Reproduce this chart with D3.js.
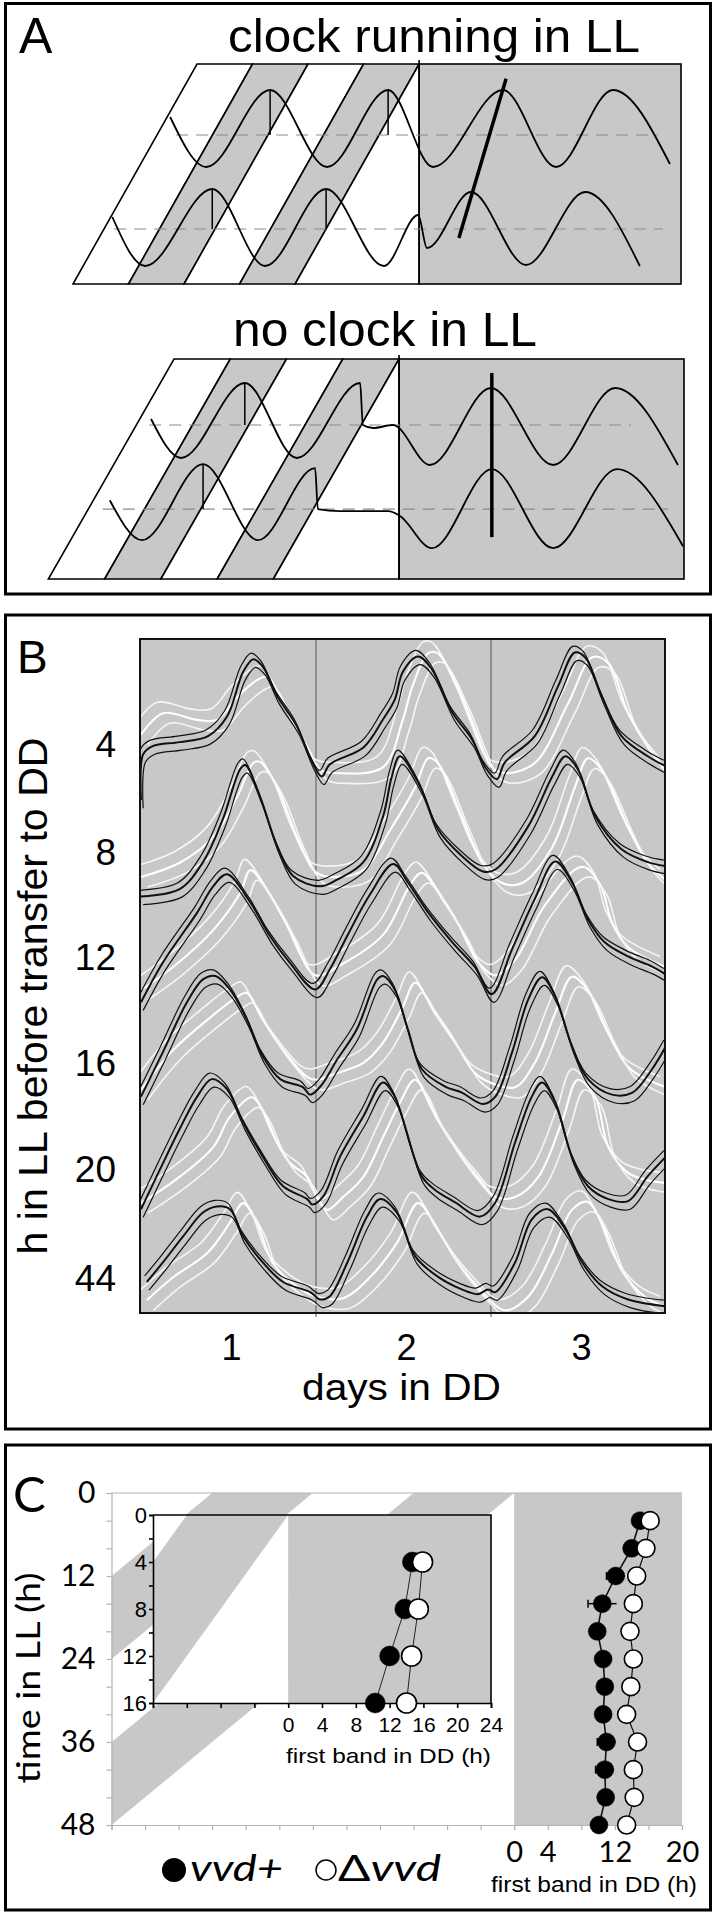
<!DOCTYPE html>
<html>
<head>
<meta charset="utf-8">
<script src="https://cdnjs.cloudflare.com/ajax/libs/d3/7.8.5/d3.min.js"></script>
<style>
    body { margin: 0; background: white; }
    svg { display: block; font-family: "Liberation Sans", Arial, sans-serif; }
</style>
</head>
<body>
<div id="figure"></div>
<script>
// ---------- panel A : schematic (hours relative to transfer to DD, waves in arbitrary units) ----------
var ld_stripe_starts = [-48, -36, -24, -12];
var ld_stripe_dark = [false, true, false, true];
var ll_depth_max = 26.8;

var running_upper_wave = [[-53.8, 1.8], [-46.0, -3.2], [-32.2, 4.5], [-19.9, -3.2], [-6.7, 4.5], [3.0, -3.2],
                          [18.1, 4.5], [29.6, -3.2], [41.9, 4.5], [54.2, -2.9]];
var running_lower_wave = [[-66.3, 1.2], [-59.2, -3.7], [-44.7, 4.0], [-33.3, -3.7], [-20.1, 4.0], [-7.6, -3.7],
                          [-0.2, 1.4], [1.7, -1.9], [11.2, 3.7], [23.1, -3.6], [35.9, 3.7], [47.7, -3.7]];
var running_depths = [8.65, 20.1];
var running_dash_ranges = [[-52.5, 51.6], [-65.9, 52.7]];
var running_peak_marks = [[8.65, -32.2, 4.5], [8.65, -6.7, 4.5], [20.1, -44.7, 4.0], [20.1, -20.1, 4.0]];
var running_phase_line = [[8.6, 21.2], [18.8, 1.8]];

var stopped_upper_wave = [[-52.9, 0.6], [-46.5, -3.3], [-32.9, 4.2], [-21.8, -3.3], [-8.3, 4.2], [-7.7, 0],
                          [-5.5, -0.3], [-1.3, 0], [6.6, -4.0], [19.6, 3.7], [32.9, -4.0], [46.1, 3.7], [59.5, -4.0]];
var stopped_lower_wave = [[-61.7, 0.9], [-54.8, -3.1], [-41.8, 4.5], [-30.1, -3.1], [-17.9, 4.1], [-17.3, 0],
                          [-12.6, -0.2], [-2.3, -0.2], [0, -0.6], [7.0, -3.9], [19.8, 4.0], [32.9, -3.9],
                          [46.5, 4.0], [60.6, -3.7]];
var stopped_depths = [8.04, 18.3];
var stopped_dash_ranges = [[-53.3, 49.5], [-63.2, 57.4]];
var stopped_peak_marks = [[8.04, -32.9, 4.2], [18.3, -41.8, 4.5]];
var stopped_phase_line = [[19.8, 1.7], [19.8, 21.7]];

// ---------- panel B : traces (hours in DD, stacked signal) ----------
var row_labels = ["4", "8", "12", "16", "20", "44"];
var row_levels = [84.4, 68.5, 52.8, 37.2, 21.4, 5.3];
var day_labels = ["1", "2", "3"];
var day_label_hours = [12, 36, 60];
var day_boundaries = [24, 48];

var vvd_plus_traces = [
    [[0, 76.0], [0.3, 82.8], [1.6, 84.0], [5.3, 84.6], [9.2, 85.5], [11.8, 88.4], [14.0, 95.0], [15.4, 96.9],
     [16.7, 95.8], [18.7, 91.4], [21.4, 86.9], [23.5, 81.6], [24.8, 79.5], [25.9, 81.3], [30.5, 83.8],
     [33.2, 88.0], [34.8, 90.9], [35.9, 95.0], [38.0, 97.3], [39.9, 95.4], [42.7, 89.0], [45.4, 85.0],
     [47.2, 80.9], [48.8, 79.1], [49.9, 81.6], [54.0, 85.5], [57.2, 92.9], [59.5, 97.9], [60.9, 97.2],
     [63.2, 91.4], [65.9, 85.5], [69.5, 82.5], [72, 81.0]],
    [[0, 61.7], [5.3, 62.8], [8.5, 66.8], [11.2, 73.1], [13.6, 80.6], [14.3, 81.2], [16.3, 76.6], [18.7, 69.1],
     [20.9, 64.7], [24.6, 63.2], [26.9, 64.2], [30.5, 66.8], [33.2, 73.6], [34.4, 79.5], [35.5, 82.5],
     [38.3, 78.0], [40.7, 71.7], [44.0, 67.7], [46.9, 65.4], [48.6, 65.7], [53.1, 72.1], [56.4, 79.5],
     [58.2, 82.5], [59.9, 80.6], [62.3, 73.6], [65.9, 68.7], [69.5, 66.8], [72, 66.2]],
    [[0, 46.0], [3.0, 51.9], [7.7, 59.3], [9.9, 63.2], [11.8, 65.0], [15.0, 60.8], [17.7, 55.8], [20.4, 51.9],
     [23.9, 47.9], [25.9, 50.9], [28.4, 56.1], [31.4, 62.0], [34.6, 66.5], [36.6, 63.8], [39.4, 59.3],
     [42.7, 54.9], [45.8, 51.2], [48.1, 47.2], [50.9, 53.9], [54.0, 61.3], [56.8, 66.9], [59.1, 63.8],
     [61.3, 58.3], [63.6, 54.9], [66.8, 52.8], [70.1, 51.3], [72, 50.1]],
    [[0, 32.0], [3.0, 38.6], [6.3, 46.0], [8.5, 49.4], [10.2, 49.9], [12.2, 47.9], [14.5, 43.5], [16.7, 38.0],
     [19.1, 34.6], [22.2, 33.4], [23.2, 32.3], [24.6, 33.5], [26.9, 37.5], [29.6, 42.0], [32.4, 49.4],
     [33.2, 49.9], [34.8, 47.9], [36.6, 42.0], [38.5, 36.1], [41.7, 33.5], [44.0, 32.6], [46.9, 30.9],
     [48.6, 32.0], [50.9, 38.6], [53.1, 46.4], [55.0, 49.7], [56.8, 46.9], [59.1, 39.5], [61.3, 34.6],
     [64.6, 32.3], [67.4, 32.6], [70.1, 36.1], [72, 39.5]],
    [[0, 15.3], [2.6, 21.2], [5.3, 27.2], [7.7, 32.0], [9.7, 34.6], [11.8, 33.1], [14.0, 28.2], [16.7, 23.1],
     [19.5, 18.7], [22.8, 16.8], [23.5, 16.0], [25.0, 17.2], [27.3, 23.1], [30.5, 29.1], [33.2, 34.1],
     [34.8, 32.0], [38.5, 20.2], [40.3, 18.2], [43.1, 16.3], [46.5, 14.2], [48.6, 16.3], [51.3, 25.2],
     [53.6, 32.0], [55.0, 34.1], [56.8, 31.2], [59.1, 23.1], [61.3, 18.7], [64.1, 16.8], [66.8, 16.5],
     [69.5, 20.2], [72, 23.1]],
    [[0.8, 4.5], [3.0, 7.4], [5.8, 11.3], [8.5, 14.8], [10.4, 15.7], [12.2, 15.3], [14.0, 11.3], [16.7, 7.4],
     [19.5, 4.5], [23.2, 3.0], [24.6, 1.9], [25.9, 2.4], [28.3, 7.4], [31.0, 14.2], [32.8, 16.8], [35.1, 14.8],
     [37.6, 8.3], [40.7, 5.3], [44.0, 3.4], [46.2, 2.7], [47.6, 3.4], [48.6, 3.0], [51.3, 7.4], [53.6, 13.8],
     [55.8, 15.3], [58.2, 12.3], [60.5, 7.4], [63.2, 3.9], [66.8, 1.9], [72, 0.9]]
];

var vvd_delta_traces = [
    [[0, 85.8], [3.0, 89.0], [7.7, 88.0], [10.4, 88.0], [13.2, 91.4], [15.9, 93.9], [17.3, 94.4], [19.5, 90.5],
     [22.2, 85.0], [24.6, 80.6], [26.9, 80.1], [33.2, 81.0], [35.9, 88.0], [37.2, 92.9], [39.4, 97.9],
     [40.7, 97.9], [44.0, 91.4], [46.2, 85.5], [48.1, 81.0], [49.9, 80.1], [54.0, 81.6], [58.6, 90.5],
     [61.9, 97.3], [64.1, 96.4], [66.8, 89.0], [69.5, 84.0], [72, 80.6]],
    [[0, 64.7], [5.3, 66.8], [9.9, 70.6], [13.2, 76.6], [15.4, 81.6], [16.3, 81.8], [18.7, 78.0], [21.4, 70.6],
     [24.1, 65.3], [26.9, 64.7], [30.5, 65.7], [34.2, 71.7], [37.6, 78.0], [39.4, 82.3], [40.7, 81.6],
     [44.0, 73.6], [46.8, 66.8], [49.5, 63.8], [52.3, 63.8], [56.4, 69.1], [59.5, 78.0], [61.3, 82.3],
     [63.2, 80.6], [66.8, 72.1], [69.5, 66.8], [72, 64.2]],
    [[0, 47.9], [4.7, 51.6], [9.9, 56.8], [13.6, 62.3], [15.0, 65.7], [17.7, 62.0], [20.4, 56.8], [23.9, 50.1],
     [27.3, 51.6], [33.2, 56.1], [36.9, 63.5], [38.5, 65.3], [41.7, 60.8], [44.0, 56.8], [46.2, 52.1],
     [48.6, 50.1], [51.3, 52.4], [55.4, 60.5], [60.5, 66.2], [63.0, 63.5], [64.6, 57.9], [66.8, 54.3],
     [72, 51.3]],
    [[0, 33.1], [4.4, 39.0], [9.9, 44.2], [13.2, 46.9], [14.5, 47.5], [16.7, 43.5], [19.5, 39.0], [22.8, 35.0],
     [24.1, 34.6], [26.9, 35.6], [30.5, 37.1], [33.2, 40.1], [35.9, 45.4], [37.6, 49.0], [40.3, 44.5],
     [43.1, 40.1], [45.8, 35.6], [48.1, 34.1], [51.3, 33.5], [54.0, 37.1], [56.8, 44.5], [59.1, 49.9],
     [61.3, 47.9], [64.1, 41.5], [66.8, 36.5], [69.5, 34.6], [72, 33.5]],
    [[0, 16.3], [5.3, 20.2], [9.9, 24.6], [12.2, 29.1], [15.2, 32.0], [16.7, 30.1], [18.7, 25.2], [20.4, 22.3],
     [22.8, 20.2], [24.1, 17.2], [25.5, 15.3], [27.7, 17.2], [30.5, 20.2], [33.2, 26.1], [35.5, 31.2],
     [37.6, 34.6], [40.7, 28.6], [44.0, 23.1], [46.8, 19.3], [48.6, 17.2], [51.3, 17.2], [54.5, 20.2],
     [57.8, 28.6], [59.9, 34.6], [62.3, 32.0], [64.1, 24.6], [66.8, 20.8], [69.5, 19.7], [72, 19.3]],
    [[0.8, 1.9], [4.4, 5.3], [9.1, 8.9], [12.2, 13.4], [14.0, 16.3], [15.9, 13.4], [18.1, 7.4], [21.4, 3.9],
     [24.1, 2.4], [27.7, 2.2], [31.4, 5.3], [35.1, 10.4], [38.0, 16.3], [40.7, 12.3], [43.5, 7.4], [46.2, 3.9],
     [49.9, 0.4], [53.1, 2.4], [56.4, 8.9], [59.1, 15.3], [61.2, 16.5], [63.2, 13.4], [65.9, 6.4], [69.1, 2.4],
     [72, 0.9]]
];

// spread of the replicate races around each drawn trace [hours, signal]
var vvd_plus_replicates = [[-0.3, 1.0], [0, 0.1], [0.3, -1.1]];
var vvd_delta_replicates = [[-0.8, 1.6], [0, 0], [0.9, -1.5]];

// ---------- panel C : first band in DD ----------
var ll_times = [4, 8, 12, 16, 20, 24, 28, 32, 36, 40, 44, 48];
var first_band_vvd_plus = [15.0, 14.0, 12.1, 10.5, 9.9, 10.6, 10.8, 10.6, 11.0, 10.8, 10.9, 10.1];
var first_band_vvd_delta = [16.2, 15.7, 14.6, 14.2, 13.8, 14.2, 13.9, 13.4, 14.7, 14.2, 14.3, 13.4];
var error_vvd_plus = [0, 0, 1.1, 1.7, 0, 0.8, 0, 0, 1.1, 1.1, 0, 0];
var error_vvd_delta = [0, 0, 0.4, 0, 0.9, 0.6, 0.8, 0, 0.6, 0, 0, 0];

var inset_ll_times = [4, 8, 12, 16];
var inset_vvd_plus = [14.7, 13.8, 12.0, 10.3];
var inset_vvd_delta = [15.9, 15.4, 14.6, 14.0];

var dark_band_starts = [-36, -12];
var main_y_labels = [0, 12, 24, 36, 48];
var main_x_labels = [0, 4, 12, 20];
var inset_y_labels = [0, 4, 8, 12, 16];
var inset_x_labels = [0, 4, 8, 12, 16, 20, 24];

var gray_fill = "#c8c8c8";

var svg = d3.select("#figure").append("svg")
            .attr("width", 717)
            .attr("height", 1914);

draw_panel_a(svg);
draw_panel_b(svg);
draw_panel_c(svg);

function draw_frame(root, top, bottom)
{
    root.append("rect")
        .attr("x", 5.5).attr("y", top)
        .attr("width", 705).attr("height", bottom - top)
        .attr("fill", "none")
        .attr("stroke", "black")
        .attr("stroke-width", 3);
}

function draw_panel_a(svg)
{
    var panel = svg.append("g");
    draw_frame(panel, 3.5, 594);

    panel.append("text").attr("x", 19).attr("y", 53).style("font-size", "50px").text("A");
    panel.append("text").attr("x", 228).attr("y", 52)
         .attr("textLength", 412).attr("lengthAdjust", "spacingAndGlyphs")
         .style("font-size", "47px").text("clock running in LL");
    panel.append("text").attr("x", 233).attr("y", 346)
         .attr("textLength", 304).attr("lengthAdjust", "spacingAndGlyphs")
         .style("font-size", "48px").text("no clock in LL");

    draw_clock_diagram(panel, {left: 197, right: 681, dd_end: 56.6, top: 64, bottom: 284},
                       [running_upper_wave, running_lower_wave], running_depths, running_dash_ranges,
                       running_peak_marks, running_phase_line);

    draw_clock_diagram(panel, {left: 174, right: 684, dd_end: 60.8, top: 359, bottom: 579},
                       [stopped_upper_wave, stopped_lower_wave], stopped_depths, stopped_dash_ranges,
                       stopped_peak_marks, stopped_phase_line);
}

function draw_clock_diagram(root, layout, waves, depths, dash_ranges, peak_marks, phase_line)
{
    var x = d3.scaleLinear().domain([-48, layout.dd_end]).range([layout.left, layout.right]);
    var y = d3.scaleLinear().domain([0, ll_depth_max]).range([layout.top, layout.bottom]);
    var amp = d3.scaleLinear().domain([0, 1]).range([0, 10]);
    var polygon = d3.line().x(function (d) { return x(d[0]); }).y(function (d) { return y(d[1]); });

    root.append("rect")
        .attr("x", x(0)).attr("y", y(0))
        .attr("width", x(layout.dd_end) - x(0))
        .attr("height", y(ll_depth_max) - y(0))
        .attr("fill", gray_fill)
        .attr("stroke", "black").attr("stroke-width", 1.6);

    for (var index in ld_stripe_starts)
    {
        var b = ld_stripe_starts[index];
        var corners = [[b, 0], [b + 12, 0], [b + 12 - ll_depth_max, ll_depth_max], [b - ll_depth_max, ll_depth_max]];
        root.append("path")
            .attr("d", polygon(corners) + "Z")
            .attr("fill", ld_stripe_dark[index] ? gray_fill : "white")
            .attr("stroke", "black").attr("stroke-width", 1.6)
            .attr("stroke-linejoin", "miter");
    }

    root.append("path")
        .attr("d", polygon([[0, 0], [0, ll_depth_max], [-ll_depth_max, ll_depth_max]]) + "Z")
        .attr("fill", "white")
        .attr("stroke", "black").attr("stroke-width", 1.6);

    root.append("line")
        .attr("x1", x(0)).attr("x2", x(0))
        .attr("y1", y(-0.5)).attr("y2", y(ll_depth_max))
        .attr("stroke", "black").attr("stroke-width", 1.6);

    for (var w = 0; w < waves.length; w++)
    {
        var depth = depths[w];
        root.append("line")
            .attr("x1", x(dash_ranges[w][0])).attr("x2", x(dash_ranges[w][1]))
            .attr("y1", y(depth)).attr("y2", y(depth))
            .attr("stroke", "#8a8a8a").attr("stroke-width", 1.2)
            .attr("stroke-dasharray", "12,8");

        var wave_line = d3.line()
                          .x(function (d) { return x(d[0]); })
                          .y(function (d) { return y(depth) - amp(d[1]); })
                          .curve(d3.curveMonotoneX);

        root.append("path")
            .attr("d", wave_line(waves[w]))
            .attr("fill", "none")
            .attr("stroke", "black").attr("stroke-width", 1.8);
    }

    peak_marks.forEach(function (mark) {
        root.append("line")
            .attr("x1", x(mark[1])).attr("x2", x(mark[1]))
            .attr("y1", y(mark[0]) - amp(mark[2])).attr("y2", y(mark[0]))
            .attr("stroke", "black").attr("stroke-width", 1.5);
    });

    root.append("line")
        .attr("x1", x(phase_line[0][0])).attr("y1", y(phase_line[0][1]))
        .attr("x2", x(phase_line[1][0])).attr("y2", y(phase_line[1][1]))
        .attr("stroke", "black").attr("stroke-width", 3.5);
}

function draw_panel_b(svg)
{
    var panel = svg.append("g");
    draw_frame(panel, 615, 1429);

    var plot = {left: 140, right: 665, top: 639, bottom: 1313};
    var x = d3.scaleLinear().domain([0, 72]).range([141, 666]);
    var y = d3.scaleLinear().domain([0, 100]).range([1313, 639]);

    panel.append("clipPath").attr("id", "clip-b")
         .append("rect")
         .attr("x", plot.left).attr("y", plot.top)
         .attr("width", plot.right - plot.left).attr("height", plot.bottom - plot.top);

    panel.append("rect")
         .attr("x", plot.left).attr("y", plot.top)
         .attr("width", plot.right - plot.left).attr("height", plot.bottom - plot.top)
         .attr("fill", gray_fill);

    day_boundaries.forEach(function (h) {
        panel.append("line")
             .attr("x1", x(h)).attr("x2", x(h))
             .attr("y1", plot.top).attr("y2", plot.bottom + 4)
             .attr("stroke", "#555").attr("stroke-width", 1);
    });

    var traces = panel.append("g").attr("clip-path", "url(#clip-b)");
    var trace_line = d3.line()
                       .x(function (d) { return x(d[0]); })
                       .y(function (d) { return y(d[1]); })
                       .curve(d3.curveCatmullRom.alpha(0.5));

    var white_widths = [1.6, 2.1, 1.6];
    var black_widths = [1.2, 2.0, 1.2];

    vvd_delta_traces.forEach(function (trace) {
        vvd_delta_replicates.forEach(function (rep, r) {
            var shifted = trace.map(function (p) { return [p[0] + rep[0], p[1] + rep[1]]; });
            traces.append("path")
                  .attr("d", trace_line(shifted))
                  .attr("fill", "none")
                  .attr("stroke", r === 1 ? "#ffffff" : "#f6f6f6")
                  .attr("stroke-width", white_widths[r]);
        });
    });

    vvd_plus_traces.forEach(function (trace) {
        vvd_plus_replicates.forEach(function (rep, r) {
            var shifted = trace.map(function (p) { return [p[0] + rep[0], p[1] + rep[1]]; });
            traces.append("path")
                  .attr("d", trace_line(shifted))
                  .attr("fill", "none")
                  .attr("stroke", "#111")
                  .attr("stroke-width", black_widths[r]);
        });
    });

    panel.append("rect")
         .attr("x", plot.left).attr("y", plot.top)
         .attr("width", plot.right - plot.left).attr("height", plot.bottom - plot.top)
         .attr("fill", "none")
         .attr("stroke", "#111").attr("stroke-width", 2);

    row_labels.forEach(function (label, i) {
        panel.append("text")
             .attr("x", 116).attr("y", y(row_levels[i]))
             .attr("dy", "0.36em")
             .attr("text-anchor", "end")
             .style("font-size", "37px")
             .text(label);
    });

    day_labels.forEach(function (label, i) {
        panel.append("text")
             .attr("x", x(day_label_hours[i]) + 3).attr("y", 1360)
             .attr("text-anchor", "middle")
             .style("font-size", "36px")
             .text(label);
    });

    panel.append("text").attr("x", 17).attr("y", 673).style("font-size", "46px").text("B");

    panel.append("text")
         .attr("x", 302).attr("y", 1400)
         .attr("textLength", 199).attr("lengthAdjust", "spacingAndGlyphs")
         .style("font-size", "36px")
         .text("days in DD");

    panel.append("text")
         .attr("transform", "translate(47,996) rotate(-90)")
         .attr("text-anchor", "middle")
         .attr("textLength", 517).attr("lengthAdjust", "spacingAndGlyphs")
         .style("font-size", "40px")
         .text("h in LL before transfer to DD");
}

function draw_panel_c(svg)
{
    var panel = svg.append("g");
    draw_frame(panel, 1445, 1910);

    var x = d3.scaleLinear().domain([-48, 20]).range([111.5, 682]);
    var y = d3.scaleLinear().domain([0, 48]).range([1493, 1825]);
    var ix = d3.scaleLinear().domain([-16, 24]).range([153, 491]);
    var iy = d3.scaleLinear().domain([0, 16]).range([1515, 1703]);

    // main light / dark history
    panel.append("clipPath").attr("id", "clip-c")
         .append("rect")
         .attr("x", x(-48)).attr("y", y(0))
         .attr("width", x(0) - x(-48)).attr("height", y(48) - y(0));

    panel.append("rect")
         .attr("x", x(0)).attr("y", y(0))
         .attr("width", x(20) - x(0)).attr("height", y(48) - y(0))
         .attr("fill", gray_fill);

    var band_layer = panel.append("g").attr("clip-path", "url(#clip-c)");
    var main_polygon = d3.line().x(function (d) { return x(d[0]); }).y(function (d) { return y(d[1]); });
    dark_band_starts.forEach(function (b) {
        band_layer.append("path")
                  .attr("d", main_polygon([[b, 0], [b + 12, 0], [b + 12 - 48, 48], [b - 48, 48]]) + "Z")
                  .attr("fill", gray_fill);
    });

    panel.append("line")
         .attr("x1", x(-48)).attr("x2", x(20))
         .attr("y1", y(0)).attr("y2", y(0))
         .attr("stroke", "#b4b4b4").attr("stroke-width", 1.2);

    var main_left = d3.axisLeft(y)
                      .tickValues(d3.range(0, 49, 4))
                      .tickFormat(function (d) { return main_y_labels.indexOf(d) >= 0 ? d : ""; })
                      .tickSize(5).tickPadding(11);
    var left_axis = panel.append("g").attr("transform", "translate(" + x(-48) + ",0)").call(main_left);
    left_axis.selectAll("path, line").attr("stroke", "#b4b4b4").attr("stroke-width", 1.2);
    left_axis.selectAll("text")
             .style("font-family", "Lato, 'Open Sans', sans-serif")
             .style("font-size", "30px").attr("fill", "black");

    var main_bottom = d3.axisBottom(x)
                        .tickValues(d3.range(-48, 21, 4))
                        .tickFormat(function (d) { return main_x_labels.indexOf(d) >= 0 ? d : ""; })
                        .tickSize(5).tickPadding(11);
    var bottom_axis = panel.append("g").attr("transform", "translate(0," + y(48) + ")").call(main_bottom);
    bottom_axis.selectAll("path, line").attr("stroke", "#b4b4b4").attr("stroke-width", 1.2);
    bottom_axis.selectAll("text")
               .style("font-family", "Lato, 'Open Sans', sans-serif")
               .style("font-size", "29px").attr("fill", "black");

    // main data
    draw_series(panel, x, y, ll_times, first_band_vvd_plus, error_vvd_plus, "black", 1.6, 9);
    draw_series(panel, x, y, ll_times, first_band_vvd_delta, error_vvd_delta, "white", 1.2, 9);

    // inset
    panel.append("clipPath").attr("id", "clip-inset")
         .append("rect")
         .attr("x", ix(-16)).attr("y", iy(0))
         .attr("width", ix(0) - ix(-16)).attr("height", iy(16) - iy(0));

    panel.append("rect")
         .attr("x", ix(-16)).attr("y", iy(0))
         .attr("width", ix(0) - ix(-16)).attr("height", iy(16) - iy(0))
         .attr("fill", "white");
    panel.append("rect")
         .attr("x", ix(0)).attr("y", iy(0))
         .attr("width", ix(24) - ix(0)).attr("height", iy(16) - iy(0))
         .attr("fill", gray_fill);

    var inset_bands = panel.append("g").attr("clip-path", "url(#clip-inset)");
    var inset_polygon = d3.line().x(function (d) { return ix(d[0]); }).y(function (d) { return iy(d[1]); });
    dark_band_starts.forEach(function (b) {
        inset_bands.append("path")
                   .attr("d", inset_polygon([[b, 0], [b + 12, 0], [b + 12 - 16, 16], [b - 16, 16]]) + "Z")
                   .attr("fill", gray_fill);
    });

    panel.append("path")
         .attr("d", "M" + ix(-16) + "," + iy(0) + "H" + ix(24) + "V" + iy(16))
         .attr("fill", "none")
         .attr("stroke", "black").attr("stroke-width", 1.6);

    var inset_left = d3.axisLeft(iy)
                       .tickValues(d3.range(0, 17, 2))
                       .tickFormat(function (d) { return inset_y_labels.indexOf(d) >= 0 ? d : ""; })
                       .tickSize(4).tickPadding(2);
    var inset_left_axis = panel.append("g").attr("transform", "translate(" + ix(-16) + ",0)").call(inset_left);
    inset_left_axis.selectAll("path, line").attr("stroke", "black").attr("stroke-width", 1.6);
    inset_left_axis.selectAll("text").style("font-size", "22px").attr("fill", "black");

    var inset_bottom = d3.axisBottom(ix)
                         .tickValues(d3.range(-16, 25, 4))
                         .tickFormat(function (d) { return inset_x_labels.indexOf(d) >= 0 ? d : ""; })
                         .tickSize(5).tickPadding(9);
    var inset_bottom_axis = panel.append("g").attr("transform", "translate(0," + iy(16) + ")").call(inset_bottom);
    inset_bottom_axis.selectAll("path, line").attr("stroke", "black").attr("stroke-width", 1.6);
    inset_bottom_axis.selectAll("text").style("font-size", "21px").attr("fill", "black");

    draw_series(panel, ix, iy, inset_ll_times, inset_vvd_plus, null, "black", 0.9, 10);
    draw_series(panel, ix, iy, inset_ll_times, inset_vvd_delta, null, "white", 0.9, 10);

    panel.append("text")
         .attr("x", 286).attr("y", 1763)
         .attr("textLength", 205).attr("lengthAdjust", "spacingAndGlyphs")
         .style("font-size", "21px")
         .text("first band in DD (h)");

    // labels
    panel.append("text").attr("x", 13).attr("y", 1512)
         .style("font-family", "Lato, 'Open Sans', sans-serif")
         .style("font-size", "49px").text("C");

    panel.append("text")
         .attr("transform", "translate(40,1678) rotate(-90)")
         .attr("text-anchor", "middle")
         .attr("textLength", 211).attr("lengthAdjust", "spacingAndGlyphs")
         .style("font-family", "Lato, 'Open Sans', sans-serif")
         .style("font-size", "33px")
         .text("time in LL (h)");

    panel.append("text")
         .attr("x", 491).attr("y", 1892)
         .attr("textLength", 206).attr("lengthAdjust", "spacingAndGlyphs")
         .style("font-size", "22px")
         .text("first band in DD (h)");

    // legend
    panel.append("circle").attr("cx", 174).attr("cy", 1870).attr("r", 12).attr("fill", "black");
    panel.append("text")
         .attr("x", 190).attr("y", 1881)
         .attr("textLength", 93).attr("lengthAdjust", "spacingAndGlyphs")
         .style("font-family", "Lato, 'Open Sans', sans-serif")
         .style("font-style", "italic").style("font-size", "37px")
         .text("vvd+");
    panel.append("circle").attr("cx", 326).attr("cy", 1870).attr("r", 10)
         .attr("fill", "white").attr("stroke", "black").attr("stroke-width", 1.5);
    var delta_label = panel.append("text")
                           .attr("x", 338).attr("y", 1881)
                           .attr("textLength", 103).attr("lengthAdjust", "spacingAndGlyphs")
                           .style("font-family", "Lato, 'Open Sans', sans-serif")
                           .style("font-size", "37px");
    delta_label.append("tspan").text("\u0394");
    delta_label.append("tspan").style("font-style", "italic").text("vvd");
}

function draw_series(root, x, y, times, values, errors, fill, line_width, radius)
{
    var points = times.map(function (t, i) { return [values[i], t, errors ? errors[i] : 0]; });

    var connector = d3.line()
                      .x(function (d) { return x(d[0]); })
                      .y(function (d) { return y(d[1]); });

    root.append("path")
        .attr("d", connector(points))
        .attr("fill", "none")
        .attr("stroke", "#111").attr("stroke-width", line_width);

    points.forEach(function (p) {
        if (p[2] > 0)
        {
            root.append("line")
                .attr("x1", x(p[0] - p[2])).attr("x2", x(p[0] + p[2]))
                .attr("y1", y(p[1])).attr("y2", y(p[1]))
                .attr("stroke", "black").attr("stroke-width", 1.5);
            root.append("line")
                .attr("x1", x(p[0] - p[2])).attr("x2", x(p[0] - p[2]))
                .attr("y1", y(p[1]) - 4).attr("y2", y(p[1]) + 4)
                .attr("stroke", "black").attr("stroke-width", 1.5);
        }
    });

    points.forEach(function (p) {
        root.append("circle")
            .attr("cx", x(p[0])).attr("cy", y(p[1]))
            .attr("r", radius)
            .attr("fill", fill)
            .attr("stroke", "black").attr("stroke-width", fill === "white" ? 1.6 : 0.5);
    });
}
</script>
</body>
</html>
